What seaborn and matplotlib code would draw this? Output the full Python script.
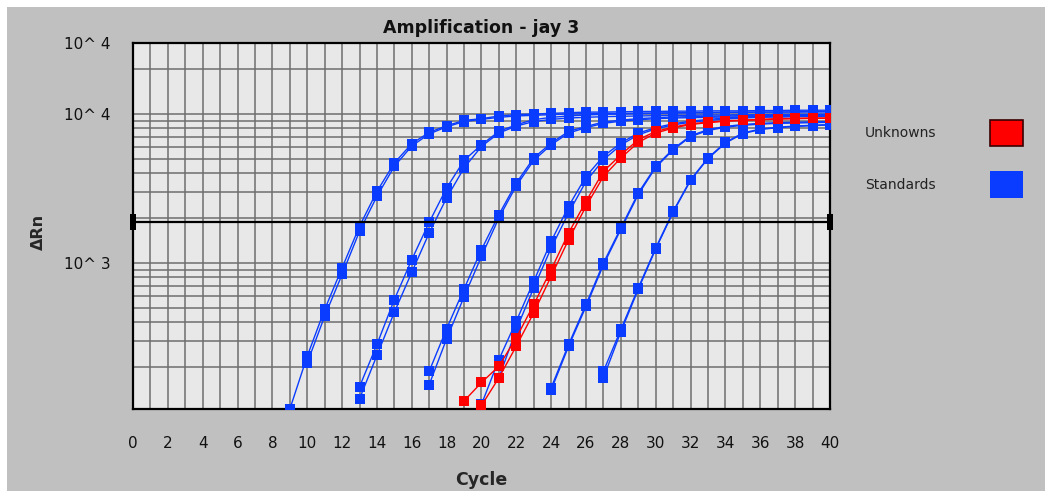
import numpy as np
import pandas as pd
import matplotlib
matplotlib.use("Agg")
import matplotlib.pyplot as plt
from matplotlib.patches import Rectangle
from matplotlib.ticker import FixedLocator, NullFormatter, FixedFormatter
import seaborn as sns

# ---------------- data ----------------
std_a1_start, std_a1 = 9, [104, 236, 486, 925, 1761, 3020, 4690, 6320, 7530, 8340, 9060, 9300, 9700, 9900, 10000, 10100,
                           10200, 10300, 10300, 10350, 10400, 10400, 10450, 10450, 10500, 10500, 10500, 10550, 10550,
                           10600, 10600, 10600]
std_a2_start, std_a2 = 10, [213, 438, 835, 1630, 2800, 4450, 6100, 7350, 8200, 8900, 9200, 9500, 9700, 9800, 9900, 10000,
                            10050, 10100, 10100, 10150, 10150, 10200, 10200, 10250, 10250, 10300, 10300, 10300, 10350,
                            10350, 10350]
std_b1_start, std_b1 = 13, [147, 283, 567, 1052, 1873, 3186, 4880, 6220, 7640, 8470, 9160, 9500, 9700, 9850, 9950, 10000,
                            10050, 10100, 10150, 10200, 10200, 10250, 10250, 10300, 10300, 10300, 10350, 10350]
std_b2_start, std_b2 = 13, [122, 239, 466, 865, 1590, 2730, 4340, 6060, 7450, 8300, 8900, 9200, 9400, 9500, 9600, 9650,
                            9700, 9750, 9800, 9800, 9850, 9850, 9900, 9900, 9950, 9950, 9950, 10000]
std_c1_start, std_c1 = 17, [187, 361, 669, 1228, 2110, 3443, 5070, 6385, 7640, 8250, 8830, 9100, 9300, 9450, 9550, 9600,
                            9650, 9700, 9750, 9750, 9800, 9800, 9850, 9850]
std_c2_start, std_c2 = 17, [152, 309, 591, 1107, 2005, 3300, 4880, 6220, 7450, 8100, 8650, 8950, 9150, 9300, 9400, 9450,
                            9500, 9550, 9550, 9600, 9600, 9650, 9650, 9650]
std_d1_start, std_d1 = 20, [112, 224, 406, 753, 1396, 2400, 3810, 5200, 6385, 7450, 8100, 8600, 8950, 9200, 9400, 9550,
                            9650, 9700, 9750, 9800, 9850]
std_d2_start, std_d2 = 21, [169, 357, 680, 1260, 2165, 3530, 4930, 6200, 7250, 7950, 8450, 8800, 9050, 9250, 9400, 9500,
                            9550, 9600, 9650, 9650]
std_e1_start, std_e1 = 24, [145, 283, 525, 1000, 1718, 2950, 4450, 5820, 7150, 7850, 8250, 8500, 8650, 8750, 8800, 8850,
                            8900]
std_e2_start, std_e2 = 24, [140, 275, 510, 970, 1680, 2880, 4380, 5750, 7050, 7750, 8150, 8400, 8550, 8650, 8700, 8750,
                            8800]
std_f1_start, std_f1 = 27, [187, 357, 680, 1260, 2220, 3620, 5070, 6450, 7450, 7930, 8150, 8300, 8400, 8500]
std_f2_start, std_f2 = 27, [169, 345, 665, 1240, 2190, 3580, 5020, 6380, 7380, 7870, 8100, 8250, 8350, 8450]
unk_1_start, unk_1 = 19, [118, 157, 202, 314, 525, 902, 1590, 2590, 4120, 5330, 6720, 7640, 8160, 8600, 8800, 9000, 9100,
                          9200, 9300, 9350, 9400, 9400]
unk_2_start, unk_2 = 20, [110, 169, 276, 462, 813, 1433, 2400, 3810, 5070, 6450, 7450, 8050, 8500, 8750, 8950, 9050, 9150,
                          9250, 9300, 9350, 9350]

threshold = 1873
x_tick_labels = [str(v) for v in range(0, 41, 2)]
y_major_vals = [1000, 10000, 30000]
y_major_labels = ["10^ 3", "10^ 4", "10^ 4"]
y_minor_vals = [200, 300, 400, 500, 600, 700, 800, 900, 2000, 3000, 4000, 5000, 6000, 7000, 8000, 9000, 20000]
legend_labels = ["Unknowns", "Standards"]

series = [
    ("Standards", "A1", std_a1_start, std_a1), ("Standards", "A2", std_a2_start, std_a2),
    ("Standards", "B1", std_b1_start, std_b1), ("Standards", "B2", std_b2_start, std_b2),
    ("Standards", "C1", std_c1_start, std_c1), ("Standards", "C2", std_c2_start, std_c2),
    ("Standards", "D1", std_d1_start, std_d1), ("Standards", "D2", std_d2_start, std_d2),
    ("Standards", "E1", std_e1_start, std_e1), ("Standards", "E2", std_e2_start, std_e2),
    ("Standards", "F1", std_f1_start, std_f1), ("Standards", "F2", std_f2_start, std_f2),
    ("Unknowns", "U1", unk_1_start, unk_1), ("Unknowns", "U2", unk_2_start, unk_2),
]
rows = []
for typ, well, start, vals in series:
    for i, v in enumerate(vals):
        rows.append({"Type": typ, "Well": well, "Cycle": start + i, "dRn": v})
df = pd.DataFrame(rows)

# ---------------- styling ----------------
BLUE = "#0a3cff"
RED = "#ff0000"
FIG_BG = "#c0c0c0"
AX_BG = "#e8e8e8"
GRID = "#6e6e6e"
TXT = "#111111"

sns.set_style("white")
plt.rcParams["font.family"] = ["DejaVu Sans"]
plt.rcParams["text.color"] = TXT
plt.rcParams["xtick.color"] = TXT
plt.rcParams["ytick.color"] = TXT

W, H = 1045, 491
fig = plt.figure(figsize=(W / 100, H / 100), dpi=100)
fig.patch.set_facecolor("white")
fig.patches.append(Rectangle((7 / W, 0), 1 - 7 / W, 1 - 7 / H, transform=fig.transFigure,
                             facecolor=FIG_BG, edgecolor="none", zorder=-10))

ax = fig.add_axes([133 / W, 1 - 408.5 / H, (830 - 133) / W, (408.5 - 43) / H])
ax.set_facecolor(AX_BG)
ax.set_yscale("log")
ax.set_xlim(0, 40)
ax.set_ylim(105, 30000)

# grid
ax.xaxis.set_major_locator(FixedLocator(list(range(0, 41, 2))))
ax.xaxis.set_minor_locator(FixedLocator(list(range(1, 40, 2))))
ax.set_xticklabels(x_tick_labels)
ax.yaxis.set_major_locator(FixedLocator(y_major_vals))
ax.yaxis.set_major_formatter(FixedFormatter(y_major_labels))
ax.yaxis.set_minor_locator(FixedLocator(y_minor_vals))
ax.yaxis.set_minor_formatter(NullFormatter())
ax.grid(True, which="both", color=GRID, lw=1.1)
ax.set_axisbelow(True)

palette = {"Standards": BLUE, "Unknowns": RED}
sns.lineplot(data=df, x="Cycle", y="dRn", hue="Type", units="Well", estimator=None,
             palette=palette, marker="s", markersize=6.8, markeredgewidth=0,
             lw=1.0, legend=False, ax=ax, sort=True, zorder=3)

# threshold line with small end bars
ax.plot([0, 40], [threshold, threshold], color="black", lw=1.6, zorder=4, clip_on=False)
end_bar = [(-1, -2.6), (1, -2.6), (1, 2.6), (-1, 2.6), (-1, -2.6)]
ax.plot([0, 40], [threshold, threshold], ls="none", marker=end_bar, color="black", ms=11,
        markeredgewidth=0, zorder=5, clip_on=False)

for s in ax.spines.values():
    s.set_color("black")
    s.set_linewidth(1.6)

ax.tick_params(axis="x", which="both", direction="out", length=8, width=1.3, color="black",
               labelsize=11, pad=12)
ax.tick_params(axis="y", which="both", direction="out", length=8, width=1.3, color="black",
               labelsize=11, pad=8)
ax.set_xlabel("Cycle", fontsize=12.5, fontweight="bold")
ax.xaxis.set_label_coords(0.5, -(480 - 408.5) / (408.5 - 43))
ax.xaxis.label.set_va("center")
ax.set_ylabel("ΔRn", fontsize=11.5, fontweight="bold")
ax.yaxis.set_label_coords(-(133 - 38) / (830 - 133), 1 - (232 - 43) / (408.5 - 43))
ax.yaxis.label.set_va("center")
ax.set_title("Amplification - jay 3", fontsize=12.5, fontweight="bold", pad=7)

# legend boxes
fig.text(865 / W, 1 - 133 / H, legend_labels[0], fontsize=10, va="center", ha="left", color="#222222")
fig.text(865 / W, 1 - 185 / H, legend_labels[1], fontsize=10, va="center", ha="left", color="#222222")
fig.patches.append(Rectangle((990 / W, 1 - 146 / H), 33 / W, 26 / H, transform=fig.transFigure,
                             facecolor=RED, edgecolor="#3a0000", lw=1.2))
fig.patches.append(Rectangle((990 / W, 1 - 198 / H), 33 / W, 27 / H, transform=fig.transFigure,
                             facecolor=BLUE, edgecolor="none"))

fig.savefig("out.png", dpi=100, facecolor=fig.get_facecolor())
